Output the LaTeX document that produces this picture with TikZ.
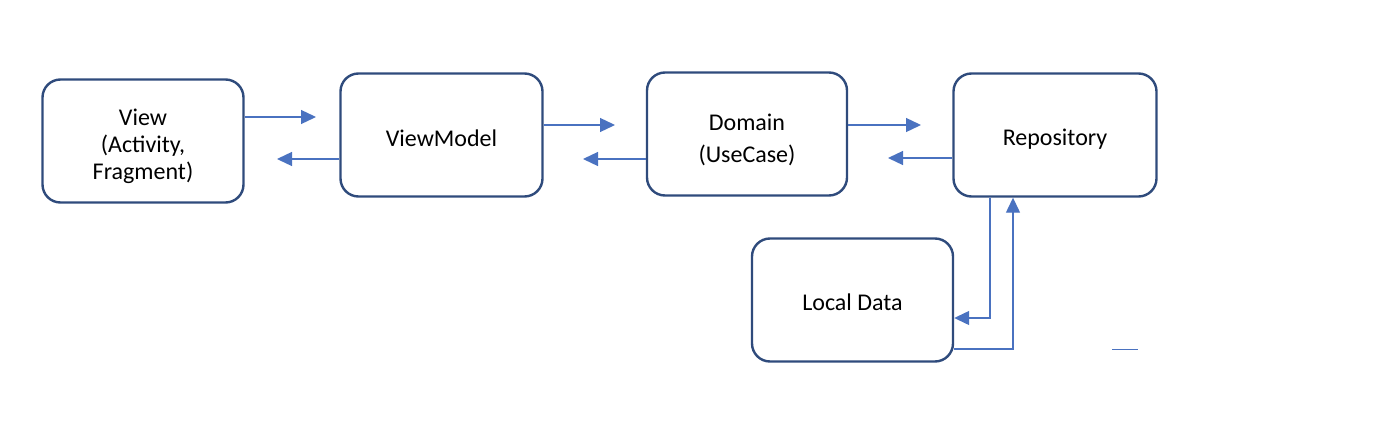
\documentclass[tikz,border=0pt]{standalone}
\usepackage{fontspec}
\setmainfont{Carlito}
\usetikzlibrary{arrows.meta}
\definecolor{boxline}{HTML}{2F4B7C}
\definecolor{arrowline}{HTML}{4A72C0}
\begin{document}
\begin{tikzpicture}[x=1pt,y=-1pt,
  box/.style={draw=boxline, line width=2.4pt, rounded corners=18pt, fill=white,
    minimum height=123pt, inner sep=0pt},
  txt/.style={font=\fontsize{24}{27}\selectfont, align=center, inner sep=0pt, anchor=base},
  conn/.style={draw=arrowline, line width=1.3pt, -{Triangle[length=15pt,width=14pt]}},
  plain/.style={draw=arrowline, line width=1.3pt}]
\useasboundingbox (0,0) rectangle (1400,447);
\node[box, minimum width=201pt] (view) at (143,141) {};
\node[box, minimum width=202pt] (vm) at (441.5,135) {};
\node[box, minimum width=200pt] (dom) at (747,134) {};
\node[box, minimum width=203pt] (repo) at (1055,135) {};
\node[box, minimum width=201pt] (local) at (852.5,300) {};
\node[txt] (viewtxt) at (143,179) {View\\(Activity,\\Fragment)};
\node[txt] (vmtxt) at (441.5,146) {ViewModel};
\node[txt, font=\fontsize{24}{32}\selectfont] (domtxt) at (747,162) {Domain\\(UseCase)};
\node[txt] (repotxt) at (1055,145) {Repository};
\node[txt] (localtxt) at (852.5,310) {Local Data};
% coordinates for arrow tips
\coordinate (t1) at (316,117);
\coordinate (t2) at (277,159);
\coordinate (t3) at (615,125);
\coordinate (t4) at (583,159);
\coordinate (t5) at (921,125);
\coordinate (t6) at (888,158);
\draw[conn] (view.east |- t1) -- (t1);
\draw[conn] (vm.west |- t2) -- (t2);
\draw[conn] (vm.east |- t3) -- (t3);
\draw[conn] (dom.west |- t4) -- (t4);
\draw[conn] (dom.east |- t5) -- (t5);
\draw[conn] (repo.west |- t6) -- (t6);
\coordinate (d1) at (990,318);
\coordinate (u1) at (1013,349);
\draw[conn] (repo.south -| d1) -- (d1) -- (local.east |- d1);
\draw[conn] (local.east |- u1) -- (u1) -- (repo.south -| u1);
\coordinate (s1) at (1112,349);
\coordinate (s2) at (1138,349);
\draw[plain, line width=1pt] (s1) -- (s2);
\end{tikzpicture}
\end{document}
